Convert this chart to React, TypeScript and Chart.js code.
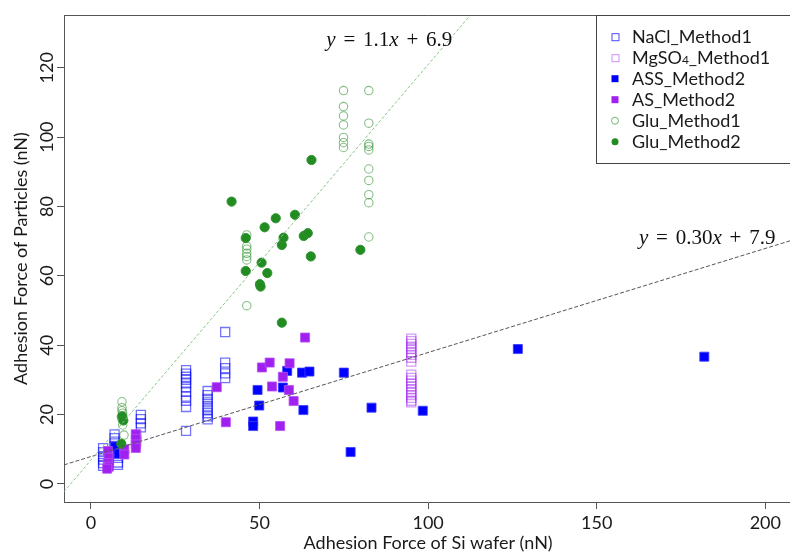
import React, { useEffect, useRef } from "react";
import { Chart, registerables } from "chart.js";

Chart.register(...registerables);

// ---------- axes ----------
const X_TICKS = [0, 50, 100, 150, 200];
const Y_TICKS = [0, 20, 40, 60, 80, 100, 120];
const X_MIN = -8;
const X_MAX = 208;
const Y_MIN = -5.2;
const Y_MAX = 135.2;
const X_TITLE = "Adhesion Force of Si wafer (nN)";
const Y_TITLE = "Adhesion Force of Particles (nN)";

// ---------- series ----------
const naclX = [3.6, 3.6, 3.6, 3.6, 3.6, 3.6, 7.0, 7.0, 7.0, 7.0, 8.0, 8.0, 8.0, 8.0, 8.0, 14.8, 14.8, 14.8, 14.8,
  28.2, 28.2, 28.2, 28.2, 28.2, 28.2, 28.2, 28.2, 28.2, 28.2, 28.2,
  34.6, 34.6, 34.6, 34.6, 34.6, 34.6, 34.6, 34.6, 34.6, 39.8, 39.8, 39.8, 39.8, 39.8];
const naclY = [10.3, 9.2, 8.0, 7.0, 6.0, 5.2, 14.3, 13.2, 12.2, 11.0, 10.2, 9.0, 7.5, 6.2, 5.5, 19.9, 18.7, 17.5, 16.3,
  32.8, 31.8, 30.9, 30.0, 29.0, 27.9, 26.6, 25.2, 24.0, 22.2, 15.3,
  26.8, 25.6, 24.5, 23.5, 22.4, 21.4, 20.4, 19.5, 18.6, 43.8, 35.0, 33.4, 31.9, 30.5];

const mgso4X = [13.5, 13.5, 95, 95, 95, 95, 95, 95, 95, 95, 95, 95, 95, 95, 95, 95, 95, 95, 95, 95, 95, 95];
const mgso4Y = [14.2, 12.3, 41.9, 41.2, 40.4, 39.6, 38.9, 38.0, 37.2, 36.4, 35.3,
  31.5, 30.6, 29.8, 28.9, 28.1, 27.3, 26.5, 25.6, 24.8, 24.0, 23.5];

const assX = [7.2, 8.2, 48.1, 48.1, 49.4, 49.9, 56.9, 58.2, 62.6, 64.8, 63.0, 75.0, 77.0, 83.2, 98.4, 126.6, 181.9];
const assY = [10.8, 8.7, 18.0, 16.7, 27.1, 22.6, 27.8, 32.6, 32.1, 32.4, 21.3, 32.1, 9.2, 22.0, 21.1, 38.9, 36.7];

const asX = [5.0, 5.2, 5.0, 5.3, 4.8, 9.9, 9.9, 13.3, 13.3, 13.3, 13.3, 37.3, 40.0, 50.7, 53.0, 53.7, 56.1, 56.9, 58.7, 58.9, 60.1, 63.5];
const asY = [9.5, 7.6, 6.0, 5.0, 4.4, 10.0, 8.5, 14.3, 13.0, 11.4, 10.4, 27.9, 17.8, 33.6, 35.0, 28.1, 16.7, 30.9, 27.1, 34.8, 23.9, 42.2];

const glu1X = [9.2, 9.2, 9.2, 9.4, 9.0, 9.2, 9.4, 9.8,
  46.2, 46.2, 46.2, 46.2, 46.2, 46.2, 46.2,
  74.9, 74.9, 74.9, 74.9, 74.9, 74.9, 74.9,
  82.4, 82.4, 82.4, 82.4, 82.4, 82.4, 82.4, 82.4, 82.4, 82.4];
const glu1Y = [23.7, 22.0, 21.1, 20.4, 19.4, 18.7, 17.0, 14.1,
  71.8, 68.6, 67.7, 66.5, 65.6, 64.6, 51.4,
  113.4, 108.8, 106.1, 103.5, 99.9, 98.4, 97.0,
  113.4, 104.0, 98.0, 97.3, 96.3, 90.8, 87.5, 83.4, 81.1, 71.2];

const glu2X = [9.3, 9.6, 9.0, 41.7, 45.9, 45.9, 50.1, 50.3, 50.6, 51.5, 52.3, 54.8, 56.6, 57.1, 60.5, 63.1, 64.3, 65.2, 65.4, 79.9, 56.6];
const glu2Y = [19.5, 18.3, 11.6, 81.4, 70.9, 61.4, 57.6, 56.9, 63.8, 74.0, 60.8, 76.6, 68.9, 71.0, 77.6, 71.5, 72.3, 65.6, 93.4, 67.5, 46.5];

// ---------- fitted lines ----------
const GLU_FIT = { slope: 1.14, intercept: 6.9, label: ["y", " = 1.1", "x", " + 6.9"] };
const SALT_FIT = { slope: 0.3, intercept: 7.9, label: ["y", " = 0.30", "x", " + 7.9"] };
const GLU_LABEL_AT = { x: 69.8, y: 126.4 };
const SALT_LABEL_AT = { x: 162.5, y: 69.3 };

const LEGEND_LABELS = ["NaCl_Method1", "MgSO4_Method1", "ASS_Method2", "AS_Method2", "Glu_Method1", "Glu_Method2"];

const FONT = "Lato";
const TEXT = "#1a1a1a";

const pts = (xs: number[], ys: number[]) => xs.map((x, i) => ({ x, y: ys[i] }));
const fitLine = (f: { slope: number; intercept: number }) => [
  { x: X_MIN, y: f.slope * X_MIN + f.intercept },
  { x: X_MAX, y: f.slope * X_MAX + f.intercept },
];

const SERIES = [
  { label: LEGEND_LABELS[0], data: pts(naclX, naclY), style: "rect", fill: "transparent", stroke: "rgba(0,0,255,0.55)", r: 6.4, lw: 1.3, legendFill: null, legendStroke: "#4a4aff" },
  { label: LEGEND_LABELS[1], data: pts(mgso4X, mgso4Y), style: "rect", fill: "transparent", stroke: "rgba(160,32,240,0.45)", r: 6.4, lw: 1.3, legendFill: null, legendStroke: "#cf8ef7" },
  { label: LEGEND_LABELS[2], data: pts(assX, assY), style: "rect", fill: "#0000ff", stroke: "rgba(60,60,255,0.8)", r: 6.4, lw: 1, legendFill: "#0000ff", legendStroke: "#0000ff" },
  { label: LEGEND_LABELS[3], data: pts(asX, asY), style: "rect", fill: "#a020f0", stroke: "rgba(180,80,245,0.8)", r: 6.4, lw: 1, legendFill: "#a020f0", legendStroke: "#a020f0" },
  { label: LEGEND_LABELS[4], data: pts(glu1X, glu1Y), style: "circle", fill: "transparent", stroke: "rgba(34,139,34,0.55)", r: 4.2, lw: 1.1, legendFill: null, legendStroke: "#6fb86f" },
  { label: LEGEND_LABELS[5], data: pts(glu2X, glu2Y), style: "circle", fill: "#228b22", stroke: "#2e932e", r: 4.6, lw: 1, legendFill: "#228b22", legendStroke: "#228b22" },
];

function drawEquation(ctx: CanvasRenderingContext2D, x: number, y: number, parts: string[]) {
  const size = 21;
  const gap = 7.8;
  let cx = x;
  ctx.save();
  ctx.fillStyle = "#111";
  ctx.textBaseline = "alphabetic";
  ctx.textAlign = "left";
  parts.forEach((p, i) => {
    const italic = i % 2 === 0;
    ctx.font = `${italic ? "italic " : ""}${size}px "Liberation Serif"`;
    const segs = p.split(" ");
    segs.forEach((s, j) => {
      if (j > 0) cx += gap;
      if (s) {
        ctx.fillText(s, cx, y);
        cx += ctx.measureText(s).width;
      }
    });
  });
  ctx.restore();
}

const overlayPlugin = {
  id: "overlay",
  afterDraw(chart: any) {
    const { ctx, chartArea, scales } = chart;
    const xs = scales.x;
    const ys = scales.y;
    ctx.save();
    // top frame line
    ctx.strokeStyle = "#555";
    ctx.lineWidth = 1;
    ctx.beginPath();
    ctx.moveTo(chartArea.left, Math.round(chartArea.top) + 0.5);
    ctx.lineTo(chartArea.right, Math.round(chartArea.top) + 0.5);
    ctx.stroke();

    // rotated y tick labels
    ctx.fillStyle = TEXT;
    ctx.font = `18px ${FONT}`;
    ctx.textAlign = "center";
    ctx.textBaseline = "middle";
    Y_TICKS.forEach((v) => {
      const py = ys.getPixelForValue(v);
      ctx.save();
      ctx.translate(chartArea.left - 17, py);
      ctx.rotate(-Math.PI / 2);
      ctx.fillText(String(v), 0, 0);
      ctx.restore();
    });

    // equations
    drawEquation(ctx, xs.getPixelForValue(GLU_LABEL_AT.x), ys.getPixelForValue(GLU_LABEL_AT.y), GLU_FIT.label);
    drawEquation(ctx, xs.getPixelForValue(SALT_LABEL_AT.x), ys.getPixelForValue(SALT_LABEL_AT.y), SALT_FIT.label);

    // legend
    const bx = 596.5;
    const by = Math.round(chartArea.top) + 0.5;
    ctx.fillStyle = "#fff";
    ctx.fillRect(bx, by, 400, 148);
    ctx.strokeStyle = "#444";
    ctx.lineWidth = 1;
    ctx.strokeRect(bx, by, 400, 148);
    const mx = 615;
    const tx = 632;
    SERIES.forEach((s, i) => {
      const cy = 36.7 + i * 21;
      ctx.lineWidth = 1;
      if (s.style === "rect") {
        if (s.legendFill) {
          ctx.fillStyle = s.legendFill;
          ctx.fillRect(mx - 3.5, cy - 3.5, 7, 7);
        } else {
          ctx.strokeStyle = s.legendStroke;
          ctx.strokeRect(mx - 3, cy - 3, 7, 7);
        }
      } else {
        ctx.beginPath();
        ctx.arc(mx, cy, 3.5, 0, Math.PI * 2);
        if (s.legendFill) {
          ctx.fillStyle = s.legendFill;
          ctx.fill();
        } else {
          ctx.strokeStyle = s.legendStroke;
          ctx.stroke();
        }
      }
      ctx.fillStyle = TEXT;
      ctx.textAlign = "left";
      ctx.textBaseline = "middle";
      if (s.label.startsWith("MgSO4")) {
        ctx.font = `18px ${FONT}`;
        ctx.fillText("MgSO", tx, cy);
        let w = ctx.measureText("MgSO").width;
        ctx.font = `12px ${FONT}`;
        ctx.fillText("4", tx + w, cy + 2);
        w += ctx.measureText("4").width;
        ctx.font = `18px ${FONT}`;
        ctx.fillText("_Method1", tx + w, cy);
      } else {
        ctx.font = `18px ${FONT}`;
        ctx.fillText(s.label, tx, cy);
      }
    });
    ctx.restore();
  },
};

export default function App() {
  const ref = useRef<HTMLCanvasElement | null>(null);
  useEffect(() => {
    if (!ref.current) return;
    const datasets: any[] = [
      {
        label: "glu fit",
        data: fitLine(GLU_FIT),
        showLine: true,
        borderColor: "#86c586",
        borderWidth: 1,
        borderDash: [3, 2],
        pointRadius: 0,
      },
      {
        label: "salt fit",
        data: fitLine(SALT_FIT),
        showLine: true,
        borderColor: "#555",
        borderWidth: 1,
        borderDash: [4, 2],
        pointRadius: 0,
      },
      ...SERIES.slice().reverse().map((s) => ({
        label: s.label,
        data: s.data,
        pointStyle: s.style,
        pointRadius: s.r,
        backgroundColor: s.fill,
        borderColor: s.stroke,
        borderWidth: s.lw,
        showLine: false,
      })),
    ];
    const chart = new Chart(ref.current, {
      type: "scatter",
      data: { datasets },
      options: {
        responsive: false,
        animation: false,
        events: [],
        layout: { padding: { top: 15, right: 1, left: 0, bottom: 0 } },
        plugins: { legend: { display: false }, tooltip: { enabled: false } },
        scales: {
          x: {
            type: "linear",
            min: X_MIN,
            max: X_MAX,
            afterBuildTicks: (s: any) => {
              s.ticks = X_TICKS.map((v) => ({ value: v }));
            },
            afterFit: (s: any) => {
              s.height = 52;
            },
            ticks: { color: TEXT, font: { family: FONT, size: 18 }, padding: 3, maxRotation: 0 },
            grid: { drawOnChartArea: false, drawTicks: true, tickLength: 7, color: "#555" },
            border: { display: true, color: "#555", width: 1 },
            title: { display: true, text: X_TITLE, color: TEXT, font: { family: FONT, size: 18 }, padding: { top: 0, bottom: 0 } },
          },
          y: {
            type: "linear",
            min: Y_MIN,
            max: Y_MAX,
            afterBuildTicks: (s: any) => {
              s.ticks = Y_TICKS.map((v) => ({ value: v }));
            },
            afterFit: (s: any) => {
              s.width = 64;
            },
            ticks: { display: false },
            grid: { drawOnChartArea: false, drawTicks: true, tickLength: 7, color: "#555" },
            border: { display: true, color: "#555", width: 1 },
            title: { display: true, text: Y_TITLE, color: TEXT, font: { family: FONT, size: 18 }, padding: { top: 10, bottom: 0 } },
          },
        },
      } as any,
      plugins: [overlayPlugin],
    });
    return () => chart.destroy();
  }, []);
  return (
    <div style={{ position: "fixed", left: 0, top: 0, width: 790, height: 554, overflow: "hidden", background: "#fff" }}>
      <canvas ref={ref} width={800} height={554} style={{ display: "block", width: 800, height: 554 }} />
    </div>
  );
}
